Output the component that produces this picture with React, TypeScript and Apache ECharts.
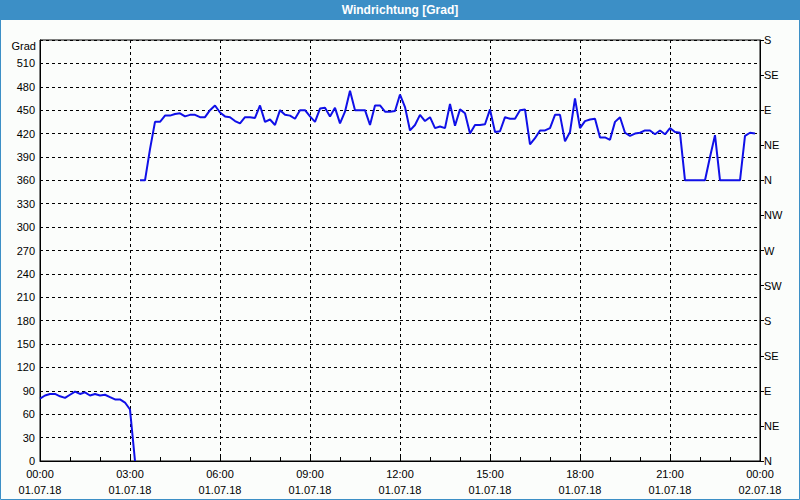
import React, { useEffect, useRef } from "react";
import * as echarts from "echarts";

const TITLE = "Windrichtung [Grad]";
const LEFT_UNIT = "Grad";
const X_HOURS = [0, 3, 6, 9, 12, 15, 18, 21, 24];
const X_TIME_LABELS = ["00:00", "03:00", "06:00", "09:00", "12:00", "15:00", "18:00", "21:00", "00:00"];
const X_DATE_LABELS = ["01.07.18", "01.07.18", "01.07.18", "01.07.18", "01.07.18", "01.07.18", "01.07.18", "01.07.18", "02.07.18"];
const DIRECTIONS = ["N", "NE", "E", "SE", "S", "SW", "W", "NW"];
const STEP_MIN = 10;

// 00:00 .. 03:10, every 10 min
const nightValues = [80, 84, 86, 86, 83, 81, 85, 89, 86, 88, 84, 86, 84, 85, 82, 79, 79, 75, 66, 0];
const nightStartIndex = 0;

// 03:20 .. 23:50, every 10 min
const dayValues = [
  360, 360, 400, 435, 435, 443, 443, 445, 446, 442, 444, 444,
  441, 441, 450, 456, 447, 442, 441, 436, 433, 441, 441, 440,
  456, 435, 438, 431, 450, 444, 443, 439, 450, 450, 442, 435,
  452, 453, 442, 453, 433, 448, 475, 450, 450, 450, 431, 456,
  456, 448, 448, 449, 470, 454, 424, 431, 444, 436, 441, 427,
  429, 427, 458, 430, 451, 446, 420, 431, 431, 432, 451, 422,
  423, 441, 439, 439, 450, 451, 406, 414, 424, 424, 427, 444,
  444, 410, 422, 465, 427, 436, 438, 439, 415, 415, 412, 435,
  441, 421, 417, 420, 421, 424, 424, 419, 424, 419, 427, 422,
  421, 360, 360, 360, 360, 360, 390, 418, 360, 360, 360, 360,
  360, 417, 421, 420,
];
const dayStartIndex = 20;

const toPairs = (vals: number[], start: number) =>
  vals.map((v, i) => [((start + i) * STEP_MIN) / 60, v]);

const FONT = "Liberation Sans";

export default function App() {
  const ref = useRef<HTMLDivElement>(null);
  useEffect(() => {
    document.body.style.margin = "0";
    const chart = echarts.init(ref.current!, null, { renderer: "svg" });
    const lineStyle = { color: "#1010e8", width: 2 };
    chart.setOption({
      animation: false,
      backgroundColor: "#fbfdfb",
      textStyle: { fontFamily: FONT },
      graphic: [
        { type: "rect", shape: { x: 0, y: 0, width: 800, height: 20 }, style: { fill: "#3c8fc6" }, silent: true },
        { type: "rect", shape: { x: 0.5, y: 0.5, width: 799, height: 499 }, style: { fill: "none", stroke: "#3c8fc6", lineWidth: 1 }, silent: true },
        { type: "text", x: 400, y: 10, style: { text: TITLE, fill: "#ffffff", font: `bold 12px "${FONT}"`, align: "center", verticalAlign: "middle" }, silent: true },
        { type: "text", x: 36, y: 46, style: { text: LEFT_UNIT, fill: "#000", font: `11px "${FONT}"`, align: "right", verticalAlign: "middle" }, silent: true },
      ],
      grid: { left: 40, right: 40, top: 40, bottom: 39, show: true, borderColor: "#000", borderWidth: 1, backgroundColor: "transparent" },
      xAxis: {
        type: "value",
        min: 0,
        max: 24,
        interval: 3,
        axisLine: { lineStyle: { color: "#000", width: 1 } },
        axisTick: { show: true, inside: true, length: 4, lineStyle: { color: "#000" } },
        minorTick: { show: true, splitNumber: 3, length: 4, lineStyle: { color: "#000" } },
        splitLine: { show: true, lineStyle: { color: "#000", type: [3, 3], width: 1 } },
        axisLabel: {
          color: "#000",
          fontSize: 11,
          fontFamily: FONT,
          lineHeight: 16,
          margin: 5,
          formatter: (v: number) => {
            const i = X_HOURS.indexOf(v);
            return i >= 0 ? `${X_TIME_LABELS[i]}\n${X_DATE_LABELS[i]}` : "";
          },
        },
      },
      yAxis: [
        {
          type: "value",
          min: 0,
          max: 540,
          interval: 30,
          position: "left",
          axisLine: { show: true, lineStyle: { color: "#000", width: 1 } },
          axisTick: { show: false },
          splitLine: { show: true, lineStyle: { color: "#000", type: [3, 3], width: 1 } },
          axisLabel: {
            color: "#000",
            fontSize: 11,
            fontFamily: FONT,
            margin: 5,
            formatter: (v: number) => (v >= 540 ? "" : String(v)),
          },
        },
        {
          type: "value",
          min: 0,
          max: 540,
          interval: 45,
          position: "right",
          axisLine: { show: true, lineStyle: { color: "#000", width: 1 } },
          axisTick: { show: true, inside: false, length: 4, lineStyle: { color: "#000" } },
          splitLine: { show: false },
          axisLabel: {
            color: "#000",
            fontSize: 11,
            fontFamily: FONT,
            margin: 4,
            formatter: (v: number) => DIRECTIONS[Math.round(v / 45) % 8],
          },
        },
      ],
      series: [
        { type: "line", data: toPairs(nightValues, nightStartIndex), showSymbol: false, symbol: "none", lineStyle, itemStyle: { color: "#1010e8" }, z: 5 },
        { type: "line", data: toPairs(dayValues, dayStartIndex), showSymbol: false, symbol: "none", lineStyle, itemStyle: { color: "#1010e8" }, z: 5 },
      ],
    });
    return () => chart.dispose();
  }, []);
  return <div ref={ref} style={{ position: "absolute", left: 0, top: 0, width: 800, height: 500 }} />;
}
